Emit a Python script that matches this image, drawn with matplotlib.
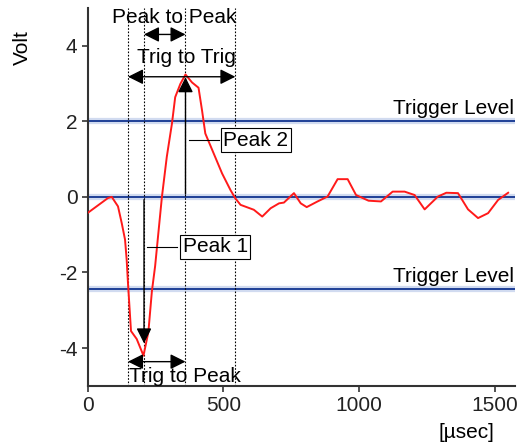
import matplotlib
matplotlib.use("Agg")
import matplotlib.pyplot as plt

plt.rcParams['font.family'] = ['Liberation Sans', 'DejaVu Sans']
plt.rcParams['axes.unicode_minus'] = False

# signal trace (time in usec, volts)
t_us = [0, 74, 88, 111, 125, 137, 143, 148, 159, 180, 205, 223, 236, 248, 260, 273,
        291, 310, 322, 341, 360, 384, 408, 421, 433, 464, 495, 526, 544,
        563, 612, 643, 674, 705, 723, 760, 785, 807, 847, 884, 921, 958, 989,
        1035, 1081, 1124, 1168, 1205, 1242, 1291, 1322, 1365, 1402, 1439, 1476,
        1513, 1550]
volt = [-0.42, -0.03, 0.0, -0.25, -0.7, -1.13, -1.66, -2.3, -3.55, -3.76, -4.2,
        -3.58, -2.5, -1.83, -0.95, 0.0, 1.06, 1.94, 2.64, 2.99, 3.24, 3.03, 2.89,
        2.29, 1.68, 1.15, 0.62, 0.18, -0.04, -0.21, -0.34, -0.52, -0.3, -0.17,
        -0.15, 0.1, -0.17, -0.27, -0.12, 0.01, 0.47, 0.47, 0.05, -0.1, -0.12,
        0.14, 0.14, 0.05, -0.33, 0.01, 0.11, 0.1, -0.33, -0.56, -0.43, -0.08, 0.11]

trig_levels = [2.0, -2.43]
zero_level = 0.0
marker_times = [148, 207, 360, 544]   # trig1, peak1, peak2, trig2
peak1 = (207, -4.2)
peak2 = (360, 3.24)

x_ticks = [0, 500, 1000, 1500]
y_ticks = [-4, -2, 0, 2, 4]

fig = plt.figure(figsize=(5.17, 4.44), dpi=100)
ax = fig.add_axes([0.170, 0.131, 0.826, 0.851])
ax.set_xlim(0, 1575)
ax.set_ylim(-5, 5)

blue = '#1f3f96'
for lv in trig_levels + [zero_level]:
    ax.axhline(lv, color='#b3c4e6', lw=4.5, alpha=0.6, zorder=1)
    ax.axhline(lv, color=blue, lw=1.4, zorder=2)

for mt in marker_times:
    ax.axvline(mt, color='black', lw=0.8, ls=(0, (1.5, 1.5)), zorder=2)

ax.plot(t_us, volt, color='#ff1a1a', lw=1.4, zorder=3)

# peak arrows
head = dict(arrowstyle='-|>', color='black', lw=1.0, mutation_scale=23)
ax.annotate('', xy=(peak1[0], -3.95), xytext=(peak1[0], 0), arrowprops=head, zorder=4)
ax.annotate('', xy=(peak2[0], peak2[1]), xytext=(peak2[0], 0), arrowprops=head, zorder=4)

# interval arrows
dbl = dict(arrowstyle='<|-|>', color='black', lw=1.0, mutation_scale=23,
           shrinkA=0, shrinkB=0)
ax.annotate('', xy=(marker_times[1], 4.3), xytext=(marker_times[2], 4.3), arrowprops=dbl)
ax.annotate('', xy=(marker_times[0], 3.18), xytext=(marker_times[3], 3.18), arrowprops=dbl)
ax.annotate('', xy=(marker_times[0], -4.36), xytext=(marker_times[2], -4.36), arrowprops=dbl)

fs = 15
ax.text(320, 4.74, 'Peak to Peak', ha='center', va='center', fontsize=fs)
ax.text(363, 3.68, 'Trig to Trig', ha='center', va='center', fontsize=fs)
ax.text(359, -4.76, 'Trig to Peak', ha='center', va='center', fontsize=fs)

box = dict(boxstyle='square,pad=0.12', fc='white', ec='black', lw=0.8)
ax.plot([374, 485], [1.5, 1.5], color='black', lw=0.8, zorder=4)
ax.text(500, 1.5, 'Peak 2', ha='left', va='center', fontsize=fs, bbox=box, zorder=5)
ax.plot([219, 330], [-1.32, -1.32], color='black', lw=0.8, zorder=4)
ax.text(350, -1.32, 'Peak 1', ha='left', va='center', fontsize=fs, bbox=box, zorder=5)

ax.text(1572, 2.08, 'Trigger Level', ha='right', va='bottom', fontsize=fs)
ax.text(1572, -2.35, 'Trigger Level', ha='right', va='bottom', fontsize=fs)

ax.set_xticks(x_ticks)
ax.set_yticks(y_ticks)
ax.tick_params(labelsize=fs, length=4, width=1.2, color='#333333', labelcolor='#222222')
for s in ['top', 'right']:
    ax.spines[s].set_visible(False)
for s in ['left', 'bottom']:
    ax.spines[s].set_linewidth(1.5)
    ax.spines[s].set_color('#333333')

fig.text(0.044, 0.894, 'Volt', rotation=90, ha='center', va='center', fontsize=fs)
fig.text(0.903, 0.027, '[\u00b5sec]', ha='center', va='center', fontsize=fs)

fig.savefig('out.png', dpi=100)
